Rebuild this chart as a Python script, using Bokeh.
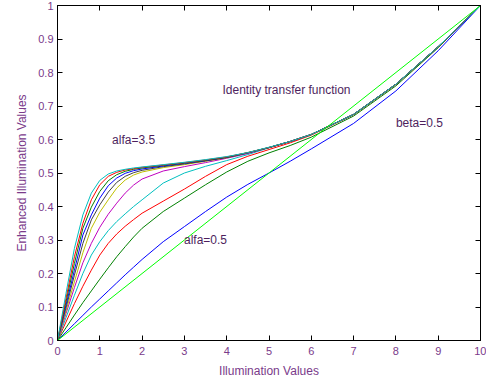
from bokeh.plotting import figure
from bokeh.models import LinearAxis, FixedTicker, ColumnDataSource
from bokeh.core.properties import value
from bokeh.embed import file_html
from bokeh.resources import INLINE

# ---- data ----
x_vals = [0, 0.2, 0.4, 0.6, 0.8, 1.0, 1.2, 1.4, 1.6, 1.8, 2.0, 2.5, 3, 3.5, 4, 4.5, 5, 5.5, 6, 7, 8, 9, 10]

alfa_values = [0.5, 0.8, 1.1, 1.4, 1.7, 2.0, 2.3, 2.6, 2.9, 3.2, 3.5]

curve_a05 = [0, 0.025, 0.05, 0.075, 0.1, 0.124, 0.148, 0.172, 0.196, 0.219, 0.242, 0.295, 0.34, 0.385, 0.428, 0.466, 0.5, 0.535, 0.572, 0.648, 0.745, 0.865, 1.0]
curve_a08 = [0, 0.038, 0.076, 0.113, 0.148, 0.183, 0.217, 0.25, 0.28, 0.309, 0.335, 0.385, 0.425, 0.465, 0.503, 0.535, 0.56, 0.582, 0.607, 0.67, 0.76, 0.874, 1.0]
curve_a11 = [0, 0.055, 0.11, 0.162, 0.21, 0.255, 0.29, 0.318, 0.341, 0.361, 0.38, 0.416, 0.452, 0.49, 0.525, 0.55, 0.57, 0.59, 0.613, 0.674, 0.764, 0.876, 1.0]
curve_a14 = [0, 0.068, 0.135, 0.2, 0.255, 0.295, 0.328, 0.355, 0.378, 0.4, 0.42, 0.47, 0.5, 0.52, 0.537, 0.555, 0.575, 0.594, 0.615, 0.675, 0.765, 0.877, 1.0]
curve_a17 = [0, 0.08, 0.158, 0.232, 0.29, 0.338, 0.377, 0.41, 0.44, 0.464, 0.482, 0.506, 0.519, 0.531, 0.544, 0.558, 0.576, 0.594, 0.615, 0.675, 0.765, 0.877, 1.0]
curve_a20 = [0, 0.088, 0.175, 0.262, 0.335, 0.383, 0.42, 0.455, 0.479, 0.494, 0.503, 0.516, 0.525, 0.535, 0.546, 0.56, 0.576, 0.594, 0.615, 0.675, 0.765, 0.877, 1.0]
curve_a23 = [0, 0.097, 0.195, 0.29, 0.36, 0.405, 0.443, 0.472, 0.49, 0.501, 0.508, 0.519, 0.527, 0.536, 0.546, 0.56, 0.576, 0.594, 0.615, 0.675, 0.765, 0.877, 1.0]
curve_a26 = [0, 0.105, 0.21, 0.315, 0.375, 0.425, 0.462, 0.485, 0.499, 0.507, 0.512, 0.521, 0.529, 0.537, 0.547, 0.56, 0.576, 0.594, 0.615, 0.675, 0.765, 0.877, 1.0]
curve_a29 = [0, 0.115, 0.23, 0.335, 0.398, 0.445, 0.477, 0.495, 0.505, 0.511, 0.515, 0.523, 0.53, 0.538, 0.547, 0.561, 0.576, 0.594, 0.615, 0.675, 0.765, 0.877, 1.0]
curve_a32 = [0, 0.125, 0.25, 0.35, 0.42, 0.465, 0.49, 0.502, 0.509, 0.513, 0.517, 0.524, 0.531, 0.539, 0.548, 0.561, 0.576, 0.594, 0.615, 0.675, 0.765, 0.877, 1.0]
curve_a35 = [0, 0.14, 0.275, 0.375, 0.44, 0.478, 0.497, 0.506, 0.511, 0.515, 0.518, 0.525, 0.532, 0.54, 0.549, 0.561, 0.577, 0.594, 0.615, 0.675, 0.765, 0.877, 1.0]

identity_x = [0, 10]
identity_y = [0, 1]

x_ticks = [0, 1, 2, 3, 4, 5, 6, 7, 8, 9, 10]
x_tick_labels = ["0", "1", "2", "3", "4", "5", "6", "7", "8", "9", "10"]
y_ticks = [0, 0.1, 0.2, 0.3, 0.4, 0.5, 0.6, 0.7, 0.8, 0.9, 1.0]
y_tick_labels = ["0", "0.1", "0.2", "0.3", "0.4", "0.5", "0.6", "0.7", "0.8", "0.9", "1"]

annot_text = ["alfa=3.5", "Identity transfer function", "beta=0.5", "alfa=0.5"]
annot_x = [1.29, 3.9, 8.0, 2.99]
annot_y = [0.60, 0.749, 0.649, 0.30]

curves = [curve_a05, curve_a08, curve_a11, curve_a14, curve_a17, curve_a20,
          curve_a23, curve_a26, curve_a29, curve_a32, curve_a35]

# MATLAB classic colour order
colors = ["#0000FF", "#008000", "#FF0000", "#00BFBF", "#BF00BF", "#BFBF00", "#404040"]

FONT = "Liberation Sans"
TICK_COLOR = "#7A3A8A"
TEXT_COLOR = "#4E1F5E"

p = figure(width=486, height=382, x_range=(0, 10), y_range=(0, 1),
           output_backend="svg", toolbar_location=None,
           min_border_left=57, min_border_right=6, min_border_top=5, min_border_bottom=42)

p.xgrid.visible = False
p.ygrid.visible = False
p.outline_line_color = "black"
p.outline_line_width = 1
p.background_fill_color = "white"

for i, yv in enumerate(curves):
    p.line(x_vals, yv, line_color=colors[i % len(colors)], line_width=1)

p.line(identity_x, identity_y, line_color="#00FF00", line_width=1)

src = ColumnDataSource(dict(x=annot_x, y=annot_y, t=annot_text))
p.text(x="x", y="y", text="t", source=src, text_font=value(FONT),
       text_font_size="12px", text_color=TEXT_COLOR,
       text_align="left", text_baseline="middle")

def style_axis(ax, ticks, labels, show_labels=True):
    ax.ticker = FixedTicker(ticks=ticks)
    ax.major_tick_in = 5
    ax.major_tick_out = 0
    ax.minor_tick_line_color = None
    ax.axis_line_color = "black"
    ax.major_tick_line_color = "black"
    ax.major_label_text_font = FONT
    ax.major_label_text_color = TICK_COLOR
    if show_labels:
        ax.major_label_overrides = {t: l for t, l in zip(ticks, labels)}
        ax.major_label_text_font_size = "11px"
    else:
        ax.major_label_overrides = {t: "" for t in ticks}
        ax.major_label_text_font_size = "0px"
        ax.major_label_standoff = 0

xa = p.xaxis[0]
ya = p.yaxis[0]
style_axis(xa, x_ticks, x_tick_labels)
style_axis(ya, y_ticks, y_tick_labels)
xa.major_label_standoff = 6
ya.major_label_standoff = 4
xa.axis_label = "Illumination Values"
ya.axis_label = "Enhanced Illumination Values"
for ax in (xa, ya):
    ax.axis_label_text_font = FONT
    ax.axis_label_text_font_size = "12px"
    ax.axis_label_text_font_style = "normal"
    ax.axis_label_text_color = TICK_COLOR
xa.axis_label_standoff = 6
ya.axis_label_standoff = 6

ra = LinearAxis()
style_axis(ra, y_ticks, y_tick_labels, show_labels=False)
p.add_layout(ra, "right")
ta = LinearAxis()
style_axis(ta, x_ticks, x_tick_labels, show_labels=False)
p.add_layout(ta, "above")

open("out.html", "w").write(file_html(p, INLINE))
